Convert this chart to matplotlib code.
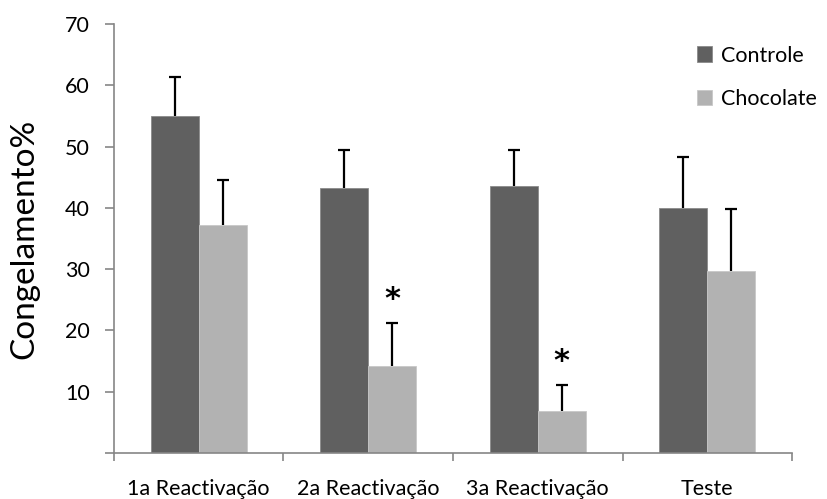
import numpy as np
import matplotlib.pyplot as plt

plt.rcParams['font.family'] = ['Lato', 'DejaVu Sans']

# dados: percentagem de congelamento por fase
fases = ['1a Reactivação', '2a Reactivação', '3a Reactivação', 'Teste']
controle = [55.0, 43.3, 43.6, 40.0]
controle_ep = [6.3, 6.1, 5.8, 8.3]
chocolate = [37.2, 14.2, 6.9, 29.7]
chocolate_ep = [7.4, 7.0, 4.2, 10.1]
signif = [False, True, True, False]

cor_ctrl = '#606060'
cor_choc = '#b2b2b2'
cor_eixo = '#868686'

fig = plt.figure(figsize=(8.27, 4.99), dpi=100)
ax = fig.add_axes([0.1378, 0.0922, 0.8199, 0.8597])

x = np.arange(1, len(fases) + 1)
w = 0.283

ax.bar(x - w/2, controle, w, color=cor_ctrl, edgecolor='#8a8a8a', linewidth=0.6,
       label='Controle', zorder=2)
ax.bar(x + w/2, chocolate, w, color=cor_choc, edgecolor='#c8c8c8', linewidth=0.6,
       label='Chocolate', zorder=2)

# barras de erro so para cima (esconde o traco de baixo)
for pos, val, ep in [(x - w/2, controle, controle_ep), (x + w/2, chocolate, chocolate_ep)]:
    eb = ax.errorbar(pos, val, yerr=[np.zeros(len(ep)), ep], fmt='none',
                     ecolor='black', elinewidth=1.6, capsize=4.5, capthick=1.6,
                     zorder=3)
    eb[1][0].set_visible(False)

for i in range(len(fases)):
    if signif[i]:
        ax.text(x[i] + w/2, chocolate[i] + chocolate_ep[i] + 3.8, '*',
                ha='center', va='center', fontsize=22, fontweight='bold',
                family='DejaVu Sans')

ax.set_xlim(0.5, len(fases) + 0.5)
ax.set_ylim(0, 70)

ax.set_yticks(range(0, 71, 10))
ax.set_yticklabels([''] + [str(v) for v in range(10, 71, 10)])
ax.tick_params(axis='y', length=6.5, width=1.2, color=cor_eixo, labelsize=15.5,
               pad=11)

ax.set_xticks(np.arange(0.5, len(fases) + 1, 1.0))
ax.set_xticklabels([])
ax.set_xticks(x, minor=True)
ax.set_xticklabels(fases, minor=True)
ax.tick_params(axis='x', which='major', length=6, width=1.2, color=cor_eixo)
ax.tick_params(axis='x', which='minor', length=0, labelsize=15.5, pad=19)

for s in ['top', 'right']:
    ax.spines[s].set_visible(False)
for s in ['left', 'bottom']:
    ax.spines[s].set_color(cor_eixo)
    ax.spines[s].set_linewidth(1.2)

ax.set_ylabel('Congelamento%', fontsize=24, labelpad=18)

ax.legend(loc='upper right', bbox_to_anchor=(1.065, 0.995), frameon=False,
          fontsize=15.5, handlelength=0.7, handleheight=0.7, handletextpad=0.4,
          labelspacing=1.1)

fig.savefig('out.png', dpi=100)
